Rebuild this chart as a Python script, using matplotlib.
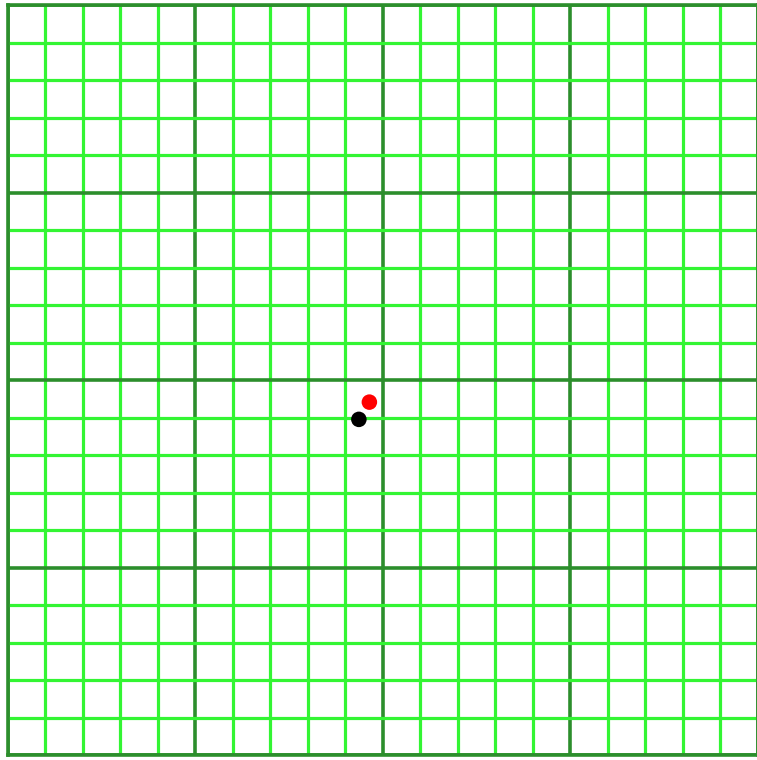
import numpy as np
import matplotlib.pyplot as plt

# grid layout (data units)
x_min, x_max = -10, 10
y_min, y_max = -10, 10
major_step = 5
minor_step = 1

# points
point_x = [-0.35, -0.63]
point_y = [-0.59, -1.05]
point_colors = ['#ff0000', '#000000']

fig = plt.figure(figsize=(7.57, 7.60), dpi=100)
ax = fig.add_axes([7.5 / 757, 5 / 760, 750 / 757, 750 / 760])

ax.set_xlim(x_min, x_max)
ax.set_ylim(y_min, y_max)

ax.set_xticks(np.arange(x_min, x_max + 1, major_step))
ax.set_yticks(np.arange(y_min, y_max + 1, major_step))
ax.set_xticks(np.arange(x_min, x_max + 1, minor_step), minor=True)
ax.set_yticks(np.arange(y_min, y_max + 1, minor_step), minor=True)

ax.grid(which='minor', color='#33f533', linewidth=2.3)
ax.grid(which='major', color='#2c8e2c', linewidth=2.6)
ax.set_axisbelow(True)
ax.tick_params(which='both', length=0, labelbottom=False, labelleft=False)

for sp in ax.spines.values():
    sp.set_color('#2c8e2c')
    sp.set_linewidth(2.6)

ax.scatter(point_x, point_y, c=point_colors, s=125, zorder=3, linewidths=0)

fig.savefig('out.png', dpi=100, facecolor='white')
